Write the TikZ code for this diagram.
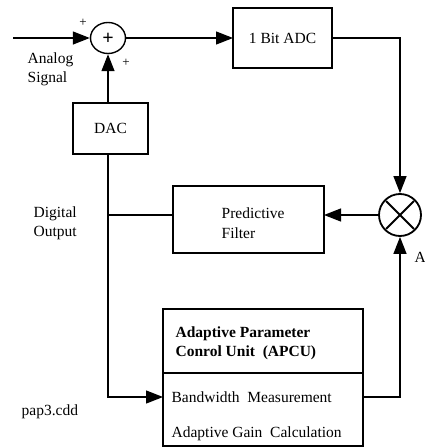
\documentclass[tikz,border=0pt]{standalone}
\usepackage{fontspec}
\setmainfont{Liberation Serif}
\usetikzlibrary{arrows.meta,shapes.geometric}
\begin{document}
\begin{tikzpicture}[x=1pt,y=1pt,
  font=\fontsize{15.5}{19.5}\selectfont,
  line width=1.3pt,
  arr/.style={-{Triangle[length=17pt,width=13pt]}},
  blk/.style={draw,shape=rectangle,inner sep=0pt,outer sep=0pt},
  txt/.style={inner sep=0pt,align=left},
  smallplus/.style={inner sep=0pt,font=\fontsize{13}{13}\selectfont}]
\useasboundingbox (0,0) rectangle (425,-447);

% summing junction and 1-bit converter
\node[draw,ellipse,minimum width=35pt,minimum height=31pt,inner sep=0pt,line width=1.4pt] (sum) at (108,-38) {};
\node[inner sep=0pt,font=\fontsize{20}{20}\selectfont\bfseries] (sumplus) at (108,-39) {+};
\node[smallplus] (pl1) at (83,-23) {+};
\node[smallplus] (pl2) at (126,-63) {+};
\coordinate (in) at (13,-38);
\node[blk,minimum width=99pt,minimum height=60pt] (adc) at (282.5,-38) {1 Bit ADC};
\node[blk,minimum width=75pt,minimum height=51pt] (dac) at (110.5,-128.5) {DAC};

% predictive filter and multiplier
\node[blk,minimum width=151pt,minimum height=67pt] (filt) at (248.5,-219.5) {};
\node[txt,anchor=west] (filttxt) at (221,-223) {Predictive\\Filter};
\node[draw,circle,minimum size=42pt,inner sep=0pt,line width=1.8pt] (mult) at (400,-215) {};
\draw[line width=1.8pt] ([shift={(-14,-14)}]mult.center) -- ([shift={(14,14)}]mult.center)
  ([shift={(-14,14)}]mult.center) -- ([shift={(14,-14)}]mult.center);
\node[txt,anchor=west] (alab) at (414,-257) {A};

% adaptive parameter control unit
\node[blk,minimum width=200pt,minimum height=64pt] (head) at (263,-341) {};
\node[blk,minimum width=200pt,minimum height=73pt] (body) at (263,-409.5) {};
\node[txt,anchor=west,font=\fontsize{15.5}{19.5}\selectfont\bfseries] (title) at (175,-343.5) {Adaptive Parameter\\Conrol Unit\ \ (APCU)};
\node[txt,anchor=west] (bw) at (171,-397) {Bandwidth\ \ Measurement};
\node[txt,anchor=west] (gain) at (171,-434) {Adaptive Gain\ \ Calculation};

% labels
\node[txt,anchor=west] (analog) at (27,-69.5) {Analog\\Signal};
\node[txt,anchor=west] (digital) at (33,-223.5) {Digital\\Output};
\node[txt,anchor=west] (file) at (21,-412) {pap3.cdd};

% signal paths
\draw[arr] (in) -- (sum.west);
\draw[arr] (sum.east) -- (adc.west);
\draw[arr] (dac.north -| sum.south) -- (sum.south);
\draw[arr] (adc.east) -| (mult.north);
\draw[arr] (mult.west) -- (mult.west -| filt.east);
\draw (filt.west |- mult.west) -- (sum |- mult.west);
\draw[arr] (dac.south -| sum.south) |- (bw.west -| body.west);
\draw[arr] (bw.west -| body.east) -| (mult.south);
\end{tikzpicture}
\end{document}
